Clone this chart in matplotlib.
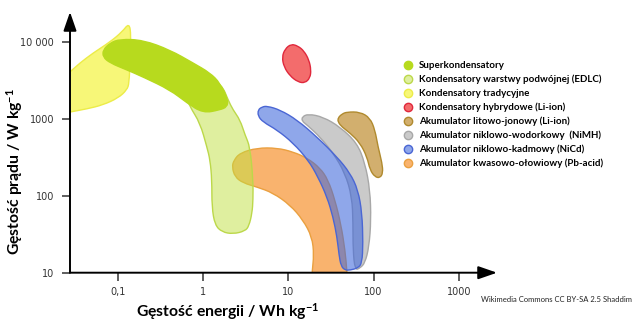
import numpy as np
import matplotlib
matplotlib.use('Agg')
import matplotlib.pyplot as plt
from matplotlib.path import Path
from matplotlib.patches import PathPatch
from matplotlib.colors import to_rgb

plt.rcParams['mathtext.fontset'] = 'custom'
plt.rcParams['mathtext.rm'] = 'Lato:bold'
plt.rcParams['mathtext.default'] = 'rm'

# ---- data: outlines of each region (energy Wh/kg, power W/kg) ----
trad_e = [0.016, 0.0275, 0.036, 0.0513, 0.081, 0.112, 0.136, 0.143, 0.139, 0.136, 0.128, 0.101, 0.067, 0.0436, 0.0275, 0.016]
trad_p = [2400, 4080, 5340, 7190, 10000, 13500, 17700, 12300, 5840, 2930, 2380, 1870, 1520, 1350, 1230, 1090]

super_e = [0.067, 0.081, 0.106, 0.198, 0.410, 0.763, 1.21, 1.58, 1.97, 1.91, 1.58, 1.0, 0.649, 0.410, 0.198, 0.128, 0.081, 0.067]
super_p = [7870, 9710, 10900, 10600, 7870, 5340, 3960, 2930, 1760, 1430, 1310, 1190, 1610, 2380, 3510, 4330, 5340, 6380]

edlc_e = [0.537, 1.055, 1.67, 1.97, 2.25, 2.72, 3.11, 3.56, 3.86, 3.86, 3.76, 3.46, 3.11, 2.25, 1.67, 1.38, 1.27, 1.27, 1.21, 1.11, 0.922, 0.704]
edlc_p = [2760, 3730, 2760, 1760, 1310, 968, 618, 432, 161, 88.2, 59.7, 40.5, 34.8, 31.9, 33.8, 41.7, 71.5, 161, 292, 432, 885, 1430]

hyb_e = [10.8, 9.16, 8.45, 8.91, 10.5, 13.0, 15.7, 18.0, 18.5, 17.5, 15.3, 13.0]
hyb_p = [9420, 8110, 6380, 4740, 3610, 3020, 2930, 3410, 4330, 5840, 7640, 8870]

liion_e = [38.3, 42.7, 48.9, 69.5, 91.0, 104, 113, 126, 129, 119, 104, 91.0, 83.9, 69.5, 53.0, 42.7, 38.3]
liion_p = [1030, 1160, 1230, 1230, 1030, 718, 432, 267, 198, 171, 176, 217, 320, 486, 656, 785, 912]

nimh_e = [14.5, 17.1, 25.6, 40.5, 64.0, 79.4, 91.0, 93.5, 88.5, 79.4, 69.5, 60.7, 57.5, 57.5, 55.9, 46.3, 33.5, 23.6, 16.6, 14.5]
nimh_p = [1060, 1160, 1060, 785, 486, 267, 119, 48.4, 21.6, 13.4, 11.5, 10.8, 19.7, 44.3, 96.4, 198, 361, 582, 834, 939]

nicd_e = [4.42, 4.92, 5.63, 8.00, 12.7, 21.7, 37.3, 53.0, 65.8, 73.3, 75.3, 73.3, 65.8, 53.0, 46.3, 41.6, 39.4, 37.3, 33.5, 28.5, 22.3, 17.1, 11.4, 7.38, 5.05, 4.42]
nicd_p = [1310, 1430, 1470, 1310, 968, 582, 320, 198, 119, 59.7, 24.3, 13.4, 11.5, 10.8, 10.8, 12.2, 17.0, 29.1, 53.0, 96.4, 176, 292, 486, 718, 912, 1090]

pb_e = [2.19, 2.30, 2.72, 4.30, 7.38, 11.4, 16.6, 23.6, 29.3, 35.3, 41.6, 46.3, 48.9, 48.9, 19.0, 19.0, 20.0, 19.0, 14.9, 10.5, 6.62, 4.30, 2.95, 2.37]
pb_p = [237, 290, 361, 419, 419, 372, 310, 230, 161, 88.2, 41.7, 19.7, 10.2, 6.9, 6.9, 10.2, 17.0, 29.1, 48.4, 75.9, 109, 130, 147, 176]

labels = ['Superkondensatory',
          'Kondensatory warstwy podwójnej (EDLC)',
          'Kondensatory tradycyjne',
          'Kondensatory hybrydowe (Li-ion)',
          'Akumulator litowo-jonowy (Li-ion)',
          'Akumulator niklowo-wodorkowy  (NiMH)',
          'Akumulator niklowo-kadmowy (NiCd)',
          'Akumulator kwasowo-ołowiowy (Pb-acid)']

xticks = [0.1, 1, 10, 100, 1000]
xtick_labels = ['0,1', '1', '10', '100', '1000']
yticks = [10, 100, 1000, 10000]
ytick_labels = ['10', '100', '1000', '10 000']

# (e, p, face, alpha, edge, zorder) in legend order
styles = {
    'super': (super_e, super_p, '#b7da1e', 1.0, '#b7da1e', 4),
    'edlc': (edlc_e, edlc_p, '#c1e141', 0.5, '#bcd84a', 3),
    'trad': (trad_e, trad_p, '#f6f656', 0.8, '#ecec48', 1),
    'hyb': (hyb_e, hyb_p, '#f14747', 0.8, '#e0283c', 4),
    'liion': (liion_e, liion_p, '#d2af6e', 1.0, '#b08a2e', 4),
    'nimh': (nimh_e, nimh_p, '#c8c8c8', 0.95, '#a8a8a8', 5),
    'nicd': (nicd_e, nicd_p, '#3f68dc', 0.58, '#4a66d4', 6),
    'pb': (pb_e, pb_p, '#f8a04a', 0.8, '#eaa040', 2),
}
order = ['super', 'edlc', 'trad', 'hyb', 'liion', 'nimh', 'nicd', 'pb']


def smooth_path(e, p):
    # quadratic bezier through midpoints (in log space) -> rounded blob
    le, lp = np.log10(e), np.log10(p)
    me, mp = (le + np.roll(le, -1)) / 2, (lp + np.roll(lp, -1)) / 2
    verts = [(me[-1], mp[-1])]
    codes = [Path.MOVETO]
    for i in range(len(le)):
        verts += [(le[i], lp[i]), (me[i], mp[i])]
        codes += [Path.CURVE3, Path.CURVE3]
    return Path(10 ** np.array(verts), codes)


W, H = 637, 323
fig = plt.figure(figsize=(W / 100, H / 100), dpi=100)
ax = fig.add_axes([70 / W, 1 - 272.7 / H, 427 / W, 260.7 / H])
ax.set_xscale('log'); ax.set_yscale('log')
ax.set_xlim(0.0275, 2810); ax.set_ylim(10, 24550)

for key in order:
    e, p, fc, a, ec, z = styles[key]
    ax.add_patch(PathPatch(smooth_path(e, p), facecolor=(*to_rgb(fc), a),
                           edgecolor=ec, lw=1.0, zorder=z))

for s in ax.spines.values():
    s.set_visible(False)
ax.set_xticks(xticks, xtick_labels)
ax.set_yticks(yticks, ytick_labels)
ax.minorticks_off()
ax.tick_params(direction='out', length=5.5, width=1.1, color='#333333',
               labelsize=7, labelcolor='#333333')
ax.tick_params(axis='x', pad=5)
ax.tick_params(axis='y', pad=6)

# axis lines with arrow heads
arr = dict(arrowstyle='-|>,head_length=0.95,head_width=0.33', color='black',
           lw=1.4, mutation_scale=12, shrinkA=0, shrinkB=0)
ax.annotate('', xy=(1, 0), xytext=(0, 0), xycoords='axes fraction', arrowprops=arr, zorder=10)
ax.annotate('', xy=(0, 1), xytext=(0, 0), xycoords='axes fraction', arrowprops=arr, zorder=10)

lab_font = dict(family=['Lato', 'DejaVu Sans'], fontweight='bold', fontsize=11.3)
fig.text(228 / W, 1 - 312 / H, 'Gęstość energii / Wh kg$^{-1}$', ha='center', va='center', **lab_font)
fig.text(15 / W, 1 - 172 / H, 'Gęstość prądu / W kg$^{-1}$', ha='center', va='center',
         rotation=90, **lab_font)

# legend drawn by hand
for i, key in enumerate(order):
    e, p, fc, a, ec, z = styles[key]
    y = 1 - (65 + 14 * i) / H
    fig.add_artist(plt.Line2D([408 / W], [y], marker='o', ms=6, mfc=(*to_rgb(fc), a),
                              mec=ec, mew=1.0, transform=fig.transFigure))
    fig.text(419 / W, y, labels[i], ha='left', va='center', fontsize=7.0,
             fontweight='bold', family=['Lato', 'DejaVu Sans'])

fig.text(481 / W, 1 - 299 / H, 'Wikimedia Commons CC BY-SA 2.5 Shaddim', fontsize=5.5,
         ha='left', va='center', family=['Lato', 'DejaVu Sans'], color='#222222')

fig.savefig('out.png', dpi=100)
